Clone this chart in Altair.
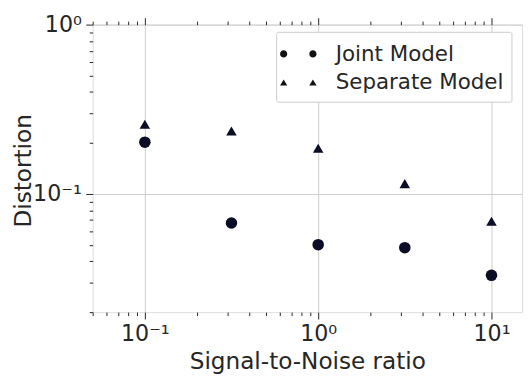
import altair as alt
import pandas as pd

# ---- data ----
snr = [0.1, 0.316, 1.0, 3.16, 10.0]
joint = [0.202, 0.0673, 0.0501, 0.0481, 0.0330]
separate = [0.258, 0.235, 0.186, 0.115, 0.0689]
models = ["Joint Model", "Separate Model"]

x_ticks = [0.05, 0.06, 0.07, 0.08, 0.09,
           0.1, 0.2, 0.3, 0.4, 0.5, 0.6, 0.7, 0.8, 0.9,
           1, 2, 3, 4, 5, 6, 7, 8, 9, 10]
x_major = [0.1, 1, 10]
x_major_labels = ["10⁻¹", "10⁰", "10¹"]

y_ticks = [0.02, 0.03, 0.04, 0.05, 0.06, 0.07, 0.08, 0.09,
           0.1, 0.2, 0.3, 0.4, 0.5, 0.6, 0.7, 0.8, 0.9, 1.0]
y_major = [0.1, 1.0]
y_major_labels = ["10⁻¹", "10⁰"]

x_domain = [0.05, 15]
y_domain = [0.02, 1.0]

df = pd.DataFrame({
    "snr": snr + snr,
    "distortion": joint + separate,
    "model": [models[0]] * len(snr) + [models[1]] * len(snr),
})
legend_df = pd.DataFrame({"model": models})

TEXT = "#262626"
MARK = "#0b0c26"
FONT = "DejaVu Sans"


def label_expr(vals, labels):
    expr = "''"
    for v, l in reversed(list(zip(vals, labels))):
        expr = f"datum.value === {v} ? '{l}' : ({expr})"
    return expr


def major_test(vals):
    return "indexof([" + ",".join(str(v) for v in vals) + "], datum.value) >= 0"


xscale = alt.Scale(type="log", domain=x_domain, nice=False)
yscale = alt.Scale(type="log", domain=y_domain, nice=False)

common_axis = dict(
    domain=False,
    tickColor=TEXT,
    tickWidth=1,
    labelFont=FONT,
    labelFontSize=22.5,
    labelColor=TEXT,
    labelFlush=False,
    labelOverlap=False,
    labelBound=False,
    titleFont=FONT,
    titleFontSize=23.5,
    titleFontWeight="normal",
    titleColor=TEXT,
    gridColor="#cccccc",
    gridWidth=1,
)

x_axis_bottom = alt.Axis(
    orient="bottom",
    values=x_ticks,
    labelExpr=label_expr(x_major, x_major_labels),
    tickSize={"condition": {"test": major_test(x_major), "value": 7}, "value": 3.5},
    grid=True,
    gridOpacity={"condition": {"test": major_test(x_major), "value": 1}, "value": 0},
    labelPadding=4,
    title="Signal-to-Noise ratio",
    titleX=218,
    titleY=57.7,
    titleBaseline="alphabetic",
    titleAnchor="middle",
    **common_axis,
)

x_axis_top = alt.Axis(
    orient="top",
    values=x_ticks,
    labels=False,
    tickSize={"condition": {"test": major_test(x_major), "value": 7}, "value": 3.5},
    grid=False,
    title=None,
    domain=False,
    tickColor=TEXT,
    tickWidth=1,
)

y_axis = alt.Axis(
    orient="left",
    values=y_ticks,
    labelExpr=label_expr(y_major, y_major_labels),
    tickSize={"condition": {"test": major_test(y_major), "value": 7}, "value": 3.5},
    grid=True,
    gridOpacity={"condition": {"test": major_test(y_major), "value": 1}, "value": 0},
    labelPadding=4.5,
    title="Distortion",
    titleX=-63.3,
    titleY=148,
    titleAngle=270,
    titleBaseline="alphabetic",
    titleAlign="center",
    **common_axis,
)

circles = alt.Chart(df).transform_filter(
    alt.datum.model == models[0]
).mark_point(shape="circle", filled=True, size=137, color=MARK, opacity=1, strokeWidth=0).encode(
    x=alt.X("snr:Q", scale=xscale, axis=x_axis_bottom),
    y=alt.Y("distortion:Q", scale=yscale, axis=y_axis),
)

triangles = alt.Chart(df).transform_filter(
    alt.datum.model == models[1]
).mark_point(shape="triangle-up", filled=True, size=114, color=MARK, opacity=1, strokeWidth=0).encode(
    x=alt.X("snr:Q", scale=xscale, axis=x_axis_top),
    y=alt.Y("distortion:Q", scale=yscale, axis=y_axis),
)

# legend symbols: two markers per entry (as in the reference)
c = 1.0            # half distance between the two markers (path units)
r = 0.246          # circle radius (path units)
lead = "M-1.485,0L-1.485,0Z"  # invisible point: leaves room at the legend's left
circle_pair = (
    lead +
    f"M{-c - r},0A{r},{r},0,1,1,{-c + r},0A{r},{r},0,1,1,{-c - r},0Z"
    f"M{c - r},0A{r},{r},0,1,1,{c + r},0A{r},{r},0,1,1,{c - r},0Z"
)
hw, hh = 0.246, 0.212
triangle_pair = (
    lead +
    f"M{-c},{-hh}L{-c + hw},{hh}L{-c - hw},{hh}Z"
    f"M{c},{-hh}L{c + hw},{hh}L{c - hw},{hh}Z"
)

legend_layer = alt.Chart(legend_df).transform_filter("false").mark_point(
    filled=True, color="#111111", opacity=1, strokeWidth=0
).encode(
    shape=alt.Shape(
        "model:N",
        scale=alt.Scale(domain=models, range=[circle_pair, triangle_pair]),
        legend=alt.Legend(
            title=None,
            orient="none",
            legendX=186.3,
            legendY=7.3,
            labelFont=FONT,
            labelFontSize=21.7,
            labelColor=TEXT,
            labelLimit=0,
            labelOffset=23,
            symbolSize=882,
            symbolOffset=0,
            symbolFillColor="#111111",
            symbolStrokeWidth=0,
            symbolOpacity=1,
            rowPadding=2,
            padding=7.5,
            strokeColor="#cccccc",
            fillColor="white",
            cornerRadius=2,
        ),
    )
)

chart = alt.layer(circles, triangles, legend_layer).resolve_axis(
    x="independent"
).properties(
    width=436,
    height=292,
    autosize=alt.AutoSizeParams(type="none"),
    padding={"left": 86, "top": 14, "right": 1, "bottom": 63},
).configure_view(
    stroke="#cccccc", strokeWidth=1.25
).configure(font=FONT)

chart.save("out.html", embed_options={"renderer": "svg", "actions": False})
